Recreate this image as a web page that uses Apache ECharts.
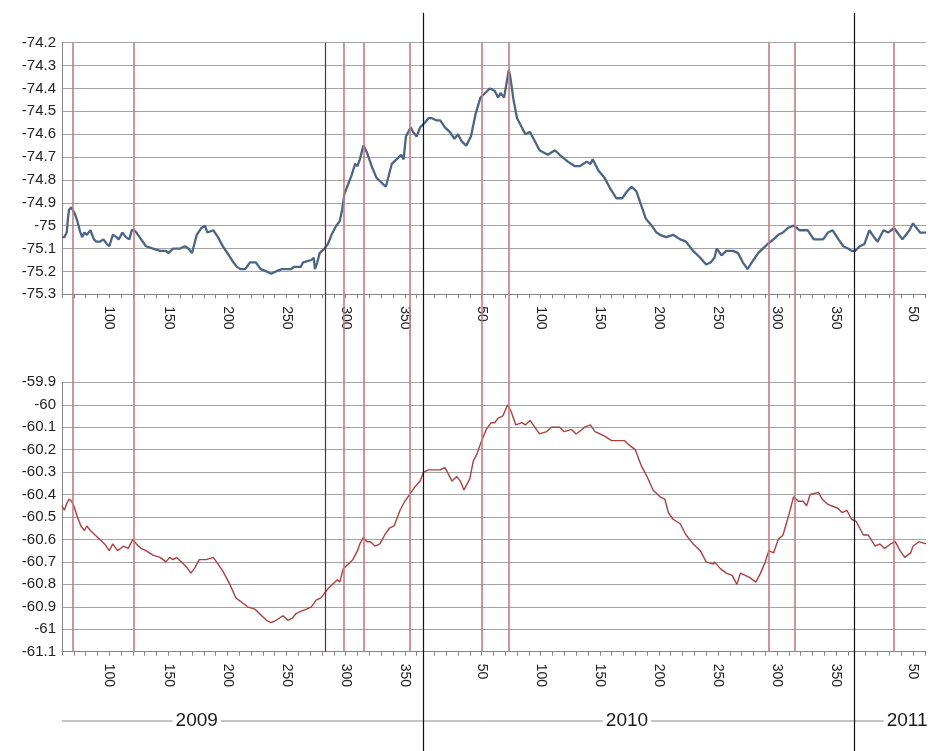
<!DOCTYPE html>
<html><head><meta charset="utf-8">
<script src="https://cdn.jsdelivr.net/npm/echarts@6/dist/echarts.min.js"></script>
<style>html,body{margin:0;padding:0;background:#fff}#c{width:933px;height:751px}</style>
</head><body><div id="c"></div>
<script>
// day index t: 2009 day-of-year = t, 2010 = t-365, 2011 = t-730
const topDays = [60,62,64,65,66,68,71,73,75,77,79,81,84,87,89,92,95,98,100,103,106,108,111,114,117,119,121,123,127,131,137,143,148,150,154,160,164,167,170,174,178,181,183,188,192,196,200,205,208,211,215,219,224,228,233,237,241,246,254,256,262,264,271,273,274,276,278,282,285,288,292,295,297,299,302,305,308,310,312,315,318,322,326,330,334,339,343,347,349,351,355,357,360,363,367,370,373,377,380,384,388,392,395,398,402,406,410,414,418,422,426,429,431,434,436,438,439,442,445,449,452,456,460,464,471,477,481,488,494,498,504,507,509,514,519,523,529,534,538,542,546,550,554,559,563,566,571,577,583,588,594,600,605,609,612,614,618,622,628,632,636,640,645,649,653,657,662,666,670,674,679,684,691,696,700,704,708,712,717,721,725,728,731,735,739,743,747,750,755,759,764,771,777,780,786,791];
const topValues = [-75.05,-75.05,-75.03,-74.97,-74.93,-74.92,-74.95,-74.98,-75.02,-75.05,-75.03,-75.04,-75.02,-75.06,-75.07,-75.07,-75.06,-75.08,-75.09,-75.04,-75.05,-75.06,-75.03,-75.05,-75.06,-75.02,-75.02,-75.03,-75.06,-75.09,-75.10,-75.11,-75.11,-75.12,-75.10,-75.10,-75.09,-75.10,-75.12,-75.04,-75.01,-75.00,-75.03,-75.02,-75.05,-75.09,-75.12,-75.16,-75.18,-75.19,-75.19,-75.16,-75.16,-75.19,-75.20,-75.21,-75.20,-75.19,-75.19,-75.18,-75.18,-75.16,-75.15,-75.14,-75.19,-75.16,-75.12,-75.10,-75.08,-75.04,-75.00,-74.98,-74.93,-74.86,-74.82,-74.78,-74.73,-74.74,-74.71,-74.65,-74.68,-74.74,-74.79,-74.81,-74.83,-74.73,-74.71,-74.69,-74.71,-74.61,-74.57,-74.59,-74.61,-74.57,-74.55,-74.53,-74.53,-74.54,-74.54,-74.57,-74.59,-74.62,-74.60,-74.63,-74.65,-74.61,-74.51,-74.44,-74.42,-74.40,-74.41,-74.44,-74.42,-74.44,-74.38,-74.32,-74.34,-74.45,-74.53,-74.57,-74.60,-74.59,-74.63,-74.67,-74.69,-74.67,-74.69,-74.72,-74.74,-74.74,-74.72,-74.73,-74.71,-74.76,-74.79,-74.83,-74.88,-74.88,-74.85,-74.83,-74.85,-74.91,-74.97,-75.00,-75.03,-75.04,-75.05,-75.04,-75.06,-75.07,-75.11,-75.14,-75.17,-75.16,-75.14,-75.10,-75.13,-75.11,-75.11,-75.12,-75.16,-75.19,-75.15,-75.12,-75.10,-75.08,-75.06,-75.04,-75.03,-75.01,-75.00,-75.02,-75.02,-75.06,-75.06,-75.06,-75.03,-75.02,-75.06,-75.09,-75.10,-75.11,-75.11,-75.09,-75.08,-75.02,-75.05,-75.07,-75.02,-75.03,-75.01,-75.06,-75.02,-74.99,-75.03,-75.03];

const bottomDays = [60,62,64,66,68,70,73,76,79,81,84,88,92,96,100,103,107,112,116,120,123,127,131,137,143,148,151,154,157,161,165,169,172,176,182,188,192,196,202,207,212,217,223,227,233,237,241,247,251,255,258,262,267,271,275,279,282,285,289,293,295,298,302,306,310,312,315,318,321,325,329,333,337,341,346,350,354,358,363,366,370,374,380,384,387,390,394,397,400,405,408,411,415,419,423,426,429,433,437,440,444,449,452,456,460,464,470,474,481,485,491,495,500,502,507,511,515,519,525,531,536,540,545,550,555,560,566,570,573,577,583,588,594,600,605,611,612,617,622,627,631,634,638,642,647,651,655,658,662,666,670,675,679,683,687,690,693,700,703,707,711,716,720,724,728,732,738,742,748,752,756,761,765,769,773,778,780,785,791];
const bottomValues = [-60.45,-60.47,-60.44,-60.42,-60.43,-60.45,-60.50,-60.54,-60.56,-60.54,-60.56,-60.58,-60.60,-60.62,-60.65,-60.62,-60.65,-60.63,-60.64,-60.60,-60.62,-60.64,-60.65,-60.67,-60.68,-60.70,-60.68,-60.69,-60.68,-60.70,-60.72,-60.75,-60.73,-60.69,-60.69,-60.68,-60.71,-60.74,-60.80,-60.86,-60.88,-60.90,-60.91,-60.93,-60.96,-60.97,-60.96,-60.94,-60.96,-60.95,-60.93,-60.92,-60.91,-60.90,-60.87,-60.86,-60.84,-60.82,-60.80,-60.78,-60.79,-60.73,-60.71,-60.69,-60.65,-60.62,-60.59,-60.61,-60.61,-60.63,-60.62,-60.58,-60.55,-60.54,-60.47,-60.43,-60.40,-60.37,-60.34,-60.30,-60.29,-60.29,-60.29,-60.28,-60.31,-60.34,-60.32,-60.34,-60.38,-60.33,-60.25,-60.22,-60.16,-60.11,-60.08,-60.08,-60.06,-60.05,-60.00,-60.03,-60.09,-60.08,-60.09,-60.07,-60.10,-60.13,-60.12,-60.10,-60.10,-60.12,-60.11,-60.13,-60.11,-60.10,-60.09,-60.12,-60.13,-60.14,-60.16,-60.16,-60.16,-60.18,-60.20,-60.27,-60.32,-60.38,-60.41,-60.42,-60.48,-60.51,-60.53,-60.58,-60.62,-60.65,-60.70,-60.71,-60.70,-60.73,-60.75,-60.76,-60.80,-60.75,-60.76,-60.77,-60.79,-60.75,-60.70,-60.65,-60.66,-60.60,-60.58,-60.49,-60.41,-60.43,-60.43,-60.45,-60.40,-60.39,-60.42,-60.44,-60.45,-60.46,-60.48,-60.47,-60.51,-60.52,-60.58,-60.58,-60.63,-60.62,-60.64,-60.62,-60.61,-60.65,-60.68,-60.66,-60.63,-60.61,-60.62];

const eventDays = [69,121,283,298,315,354,415,438,658,680,764];
const strongEventDays = [283];
const yearBoundaryDays = [365.5, 730.5];
const yearNames = ['2009','2010','2011'];
const yearLabelDays = [174, 538, 775];
const tickLabelDays = [100,150,200,250,300,350,415,465,515,565,615,665,715,780];
const tickMarkDays = [60,70,80,90,100,110,120,130,140,150,160,170,180,190,200,210,220,230,240,250,260,270,280,290,300,310,320,330,340,350,360,375,385,395,405,415,425,435,445,455,465,475,485,495,505,515,525,535,545,555,565,575,585,595,605,615,625,635,645,655,665,675,685,695,705,715,725,740,750,760,770,780,790];
const dayStart = 60, dayEnd = 791;

function doy(t){ return t > 730 ? t - 730 : (t > 365 ? t - 365 : t); }
const pairs = (xs, ys) => xs.map((x, i) => [x, ys[i]]);

const FONT = 'Liberation Sans';
const L = 62, R = 7;
function mainX(gi){
  return {
    type:'value', gridIndex:gi, min:dayStart, max:dayEnd,
    axisLine:{show:true, lineStyle:{color:'#868686', width:1}},
    axisTick:{show:true, length:4, customValues:tickMarkDays, lineStyle:{color:'#868686'}},
    axisLabel:{show:true, customValues:tickLabelDays, rotate:-90, margin:12,
      fontSize:14, fontFamily:FONT, color:'#222', formatter:v => String(doy(v))},
    splitLine:{show:false}
  };
}
function mainY(gi, mn, mx){
  return {
    type:'value', gridIndex:gi, min:mn, max:mx, interval:0.1,
    axisLine:{show:true, lineStyle:{color:'#868686'}},
    axisTick:{show:false},
    axisLabel:{fontSize:15, fontFamily:FONT, color:'#222', margin:6,
      formatter:v => String(Math.round(v*10)/10)},
    splitLine:{show:true, lineStyle:{color:'#a4a4a4', width:1.2}}
  };
}
function hiddenX(gi){ return {type:'value', gridIndex:gi, min:dayStart, max:dayEnd, show:false}; }
function hiddenY(gi){ return {type:'value', gridIndex:gi, min:0, max:1, show:false}; }

const chart = echarts.init(document.getElementById('c'), null, {renderer:'canvas'});
chart.setOption({
  animation:false,
  backgroundColor:'#fff',
  grid:[
    {left:L, right:R, top:42.7, height:251.6},
    {left:L, right:R, top:382.3, height:269.4},
    {left:L, right:R, top:42.7, height:609},
    {left:L, right:R, top:12.7, height:738.3},
    {left:L, right:R, top:711, height:20}
  ],
  xAxis:[mainX(0), mainX(1), hiddenX(2), hiddenX(3), hiddenX(4)],
  yAxis:[mainY(0,-75.3,-74.2), mainY(1,-61.1,-59.9), hiddenY(2), hiddenY(3), hiddenY(4)],
  series:[
    {type:'line', xAxisIndex:2, yAxisIndex:2, data:[], z:1, silent:true,
      markLine:{silent:true, symbol:['none','none'], label:{show:false},
        data:eventDays.map(d => ({xAxis:d, lineStyle:{
          color: strongEventDays.includes(d) ? '#8c1c1c' : '#c47c7e',
          width: strongEventDays.includes(d) ? 1.2 : 1.6, type:'solid'}}))}},
    {type:'line', xAxisIndex:0, yAxisIndex:0, data:pairs(topDays, topValues), z:3,
      showSymbol:false, lineStyle:{color:'#4c6585', width:2.3}},
    {type:'line', xAxisIndex:1, yAxisIndex:1, data:pairs(bottomDays, bottomValues), z:3,
      showSymbol:false, lineStyle:{color:'#a8413f', width:1.4}},
    {type:'line', xAxisIndex:3, yAxisIndex:3, data:[], z:4, silent:true,
      markLine:{silent:true, symbol:['none','none'], label:{show:false},
        data:yearBoundaryDays.map(d => ({xAxis:d, lineStyle:{color:'#111', width:1.2, type:'solid'}}))}},
    {type:'line', xAxisIndex:4, yAxisIndex:4, data:[[dayStart,0.5],[yearLabelDays[yearLabelDays.length-1],0.5]], z:3, silent:true,
      showSymbol:false, clip:false, lineStyle:{color:'#8a8a8a', width:1}},
    {type:'scatter', xAxisIndex:4, yAxisIndex:4, symbolSize:1, z:5, silent:true, clip:false,
      itemStyle:{color:'#fff', opacity:1},
      data:yearLabelDays.map(d => [d, 0.5]),
      label:{show:true, position:'inside', formatter:p => yearNames[p.dataIndex],
        fontSize:19, fontFamily:FONT, color:'#1a1a1a', backgroundColor:'#fff', padding:[0,3]}}
  ]
});
</script></body></html>
